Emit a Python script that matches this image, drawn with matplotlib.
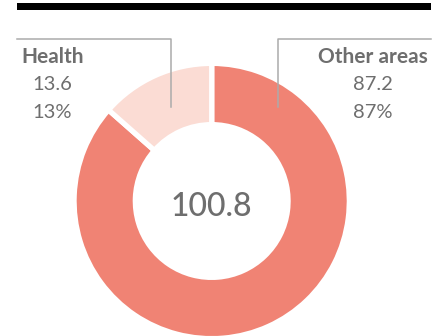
import matplotlib.pyplot as plt
from matplotlib.patches import Rectangle

# spending split
labels = ["Other areas", "Health"]
values = [87.2, 13.6]
shares = ["87%", "13%"]
total = 100.8
colors = ["#F08374", "#FBDCD4"]

text_gray = "#6E6E6E"
line_gray = "#ABABAB"

plt.rcParams['font.family'] = ['Lato', 'DejaVu Sans']

W, H = 445, 336
fig = plt.figure(figsize=(W / 100, H / 100), dpi=100)
ax = fig.add_axes([0, 0, 1, 1])

# donut, centred in pixel coordinates (y measured from bottom);
# the white edge stroke eats half its width from every side of a wedge
stroke_pt = 3.8
half = stroke_pt * 100 / 72 / 2
cx, cy = 211.7, H - 201
outer, inner = 135, 79
r = outer + half
ax.pie(values, colors=colors, startangle=90, counterclock=False,
       center=(cx, cy), radius=r,
       wedgeprops=dict(width=r + half - inner, edgecolor="white",
                       linewidth=stroke_pt))

ax.set_xlim(0, W)
ax.set_ylim(0, H)
ax.set_aspect("equal")
ax.axis("off")

# heavy rule at the top
ax.add_patch(Rectangle((17, H - 9.5), 414, 6.5, color="black", lw=0))

# leader lines
ax.plot([17, 171, 171], [H - 38.5, H - 38.5, H - 107], color=line_gray, lw=1.1)
ax.plot([431, 278, 278], [H - 38.5, H - 38.5, H - 107], color=line_gray, lw=1.1)

# Health label block
ax.text(52.5, H - 57, labels[1], ha="center", va="center", fontsize=15,
        fontweight="bold", color=text_gray)
ax.text(52, H - 85, f"{values[1]:.1f}", ha="center", va="center",
        fontsize=14.5, color=text_gray)
ax.text(52, H - 112, shares[1], ha="center", va="center",
        fontsize=14.5, color=text_gray)

# Other areas label block
ax.text(428, H - 57, labels[0], ha="right", va="center", fontsize=15,
        fontweight="bold", color=text_gray)
ax.text(373, H - 85, f"{values[0]:.1f}", ha="center", va="center",
        fontsize=14.5, color=text_gray)
ax.text(373, H - 112, shares[0], ha="center", va="center",
        fontsize=14.5, color=text_gray)

# total in the hole
ax.text(cx, cy - 6, f"{total:.1f}", ha="center", va="center",
        fontsize=23, fontweight="medium", color=text_gray)

fig.savefig("out.png", dpi=100)
